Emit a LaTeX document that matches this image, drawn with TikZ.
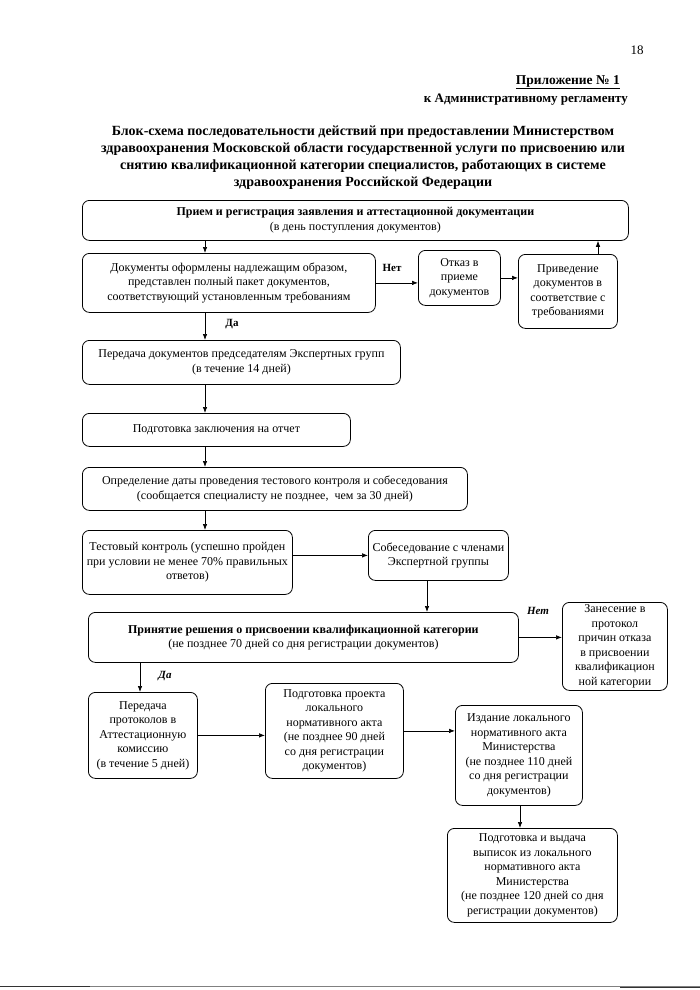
\documentclass[tikz,border=0pt]{standalone}
\usepackage{fontspec}
\setmainfont{Liberation Serif}
\usetikzlibrary{arrows.meta}
\begin{document}
\begin{tikzpicture}[x=1pt,y=-1pt,
 box/.style={draw, line width=0.8pt, rounded corners=7pt, anchor=north west, align=center, inner sep=1pt, font=\fontsize{12}{14.5}\selectfont},
 arr/.style={-{Latex[length=6pt,width=4.5pt]}, line width=0.7pt},
 lbl/.style={font=\fontsize{11}{12}\selectfont\bfseries, inner sep=0pt},
 ilbl/.style={font=\fontsize{11}{12}\selectfont\bfseries\itshape, inner sep=0pt}]
\useasboundingbox (0,0) rectangle (700,990);

% header
\node[font=\fontsize{13}{14}\selectfont, inner sep=0pt] (pg) at (637,50) {18};
\node[font=\fontsize{13.5}{14}\selectfont\bfseries, anchor=east, inner sep=0pt] (app) at (620,82) {\underline{Приложение № 1}};
\node[font=\fontsize{13}{14}\selectfont\bfseries, anchor=east, inner sep=0pt] (reg) at (628,100) {к Административному регламенту};
\node[font=\fontsize{14}{17}\selectfont\bfseries, align=center, inner sep=0pt] (title) at (363,158) {Блок-схема последовательности действий при предоставлении Министерством\\здравоохранения Московской области государственной услуги по присвоению или\\снятию квалификационной категории специалистов, работающих в системе\\здравоохранения Российской Федерации};

% boxes
\node[box, minimum width=546pt, minimum height=40pt] (b1) at (82,200) {\textbf{Прием и регистрация заявления и аттестационной документации}\\(в день поступления документов)};
\node[box, minimum width=293pt, minimum height=59pt] (b2) at (82,253) {Документы оформлены надлежащим образом,\\представлен полный пакет документов,\\соответствующий установленным требованиям};
\node[box, minimum width=82pt, minimum height=55pt] (b3) at (418,250) {Отказ в\\приеме\\документов};
\node[box, minimum width=99pt, minimum height=74pt] (b4) at (518,254) {Приведение\\документов в\\соответствие с\\требованиями};
\node[box, minimum width=318pt, minimum height=44pt] (b5) at (82,340) {Передача документов председателям Экспертных групп\\(в течение 14 дней)};
\node[box, minimum width=268pt, minimum height=33pt] (b6) at (82,413) {Подготовка заключения на отчет};
\node[box, minimum width=385pt, minimum height=43pt] (b7) at (82,467) {Определение даты проведения тестового контроля и собеседования\\(сообщается специалисту не позднее,\ \ чем за 30 дней)};
\node[box, minimum width=210pt, minimum height=64pt] (b8) at (82,530) {Тестовый контроль (успешно пройден\\при условии не менее 70\% правильных\\ответов)};
\node[box, minimum width=140pt, minimum height=50pt] (b9) at (368,530) {Собеседование с членами\\Экспертной группы};
\node[box, minimum width=430pt, minimum height=50pt] (b10) at (88,612) {\textbf{Принятие решения о присвоении квалификационной категории}\\(не позднее 70 дней со дня регистрации документов)};
\node[box, minimum width=105pt, minimum height=88pt] (b11) at (562,602) {Занесение в\\протокол\\причин отказа\\в присвоении\\квалификацион\\ной категории};
\node[box, minimum width=109pt, minimum height=86pt] (b12) at (88,692) {Передача\\протоколов в\\Аттестационную\\комиссию\\(в течение 5 дней)};
\node[box, minimum width=138pt, minimum height=95pt] (b13) at (265,683) {Подготовка проекта\\локального\\нормативного акта\\(не позднее 90 дней\\со дня регистрации\\документов)};
\node[box, minimum width=127pt, minimum height=100pt] (b14) at (455,705) {Издание локального\\нормативного акта\\Министерства\\(не позднее 110 дней\\со дня регистрации\\документов)};
\node[box, minimum width=170pt, minimum height=94pt] (b15) at (447,828) {Подготовка и выдача\\выписок из локального\\нормативного акта\\Министерства\\(не позднее 120 дней со дня\\регистрации документов)};

% columns
\coordinate (c1) at (205,0);
\coordinate (c4) at (598,0);
\coordinate (c9) at (427,0);
\coordinate (c10) at (140,0);
\coordinate (c14) at (520,0);

% connectors
\draw[arr] (c1 |- b1.south) -- (c1 |- b2.north);
\draw[arr] (b2.east) -- (b3.west |- b2.east);
\draw[arr] (b3.east) -- (b4.west |- b3.east);
\draw[arr] (c4 |- b4.north) -- (c4 |- b1.south);
\draw[arr] (c1 |- b2.south) -- (c1 |- b5.north);
\draw[arr] (c1 |- b5.south) -- (c1 |- b6.north);
\draw[arr] (c1 |- b6.south) -- (c1 |- b7.north);
\draw[arr] (c1 |- b7.south) -- (c1 |- b8.north);
\draw[arr] (b8.east |- b9.west) -- (b9.west);
\draw[arr] (c9 |- b9.south) -- (c9 |- b10.north);
\draw[arr] (b10.east) -- (b11.west |- b10.east);
\draw[arr] (c10 |- b10.south) -- (c10 |- b12.north);
\draw[arr] (b12.east) -- (b13.west |- b12.east);
\draw[arr] (b13.east) -- (b14.west |- b13.east);
\draw[arr] (c14 |- b14.south) -- (c14 |- b15.north);

% labels
\node[lbl] (no1) at (392,268) {Нет};
\node[lbl] (yes1) at (232,324) {Да};
\node[ilbl] (no2) at (538,611) {Нет};
\node[ilbl] (yes2) at (165,676) {Да};

% scan edge line
\draw[gray, line width=0.6pt] (0,986) -- (700,986);
\draw[black!80, line width=1pt] (0,986) -- (90,986);
\draw[black!80, line width=1pt] (620,987) -- (700,987);
\end{tikzpicture}
\end{document}
